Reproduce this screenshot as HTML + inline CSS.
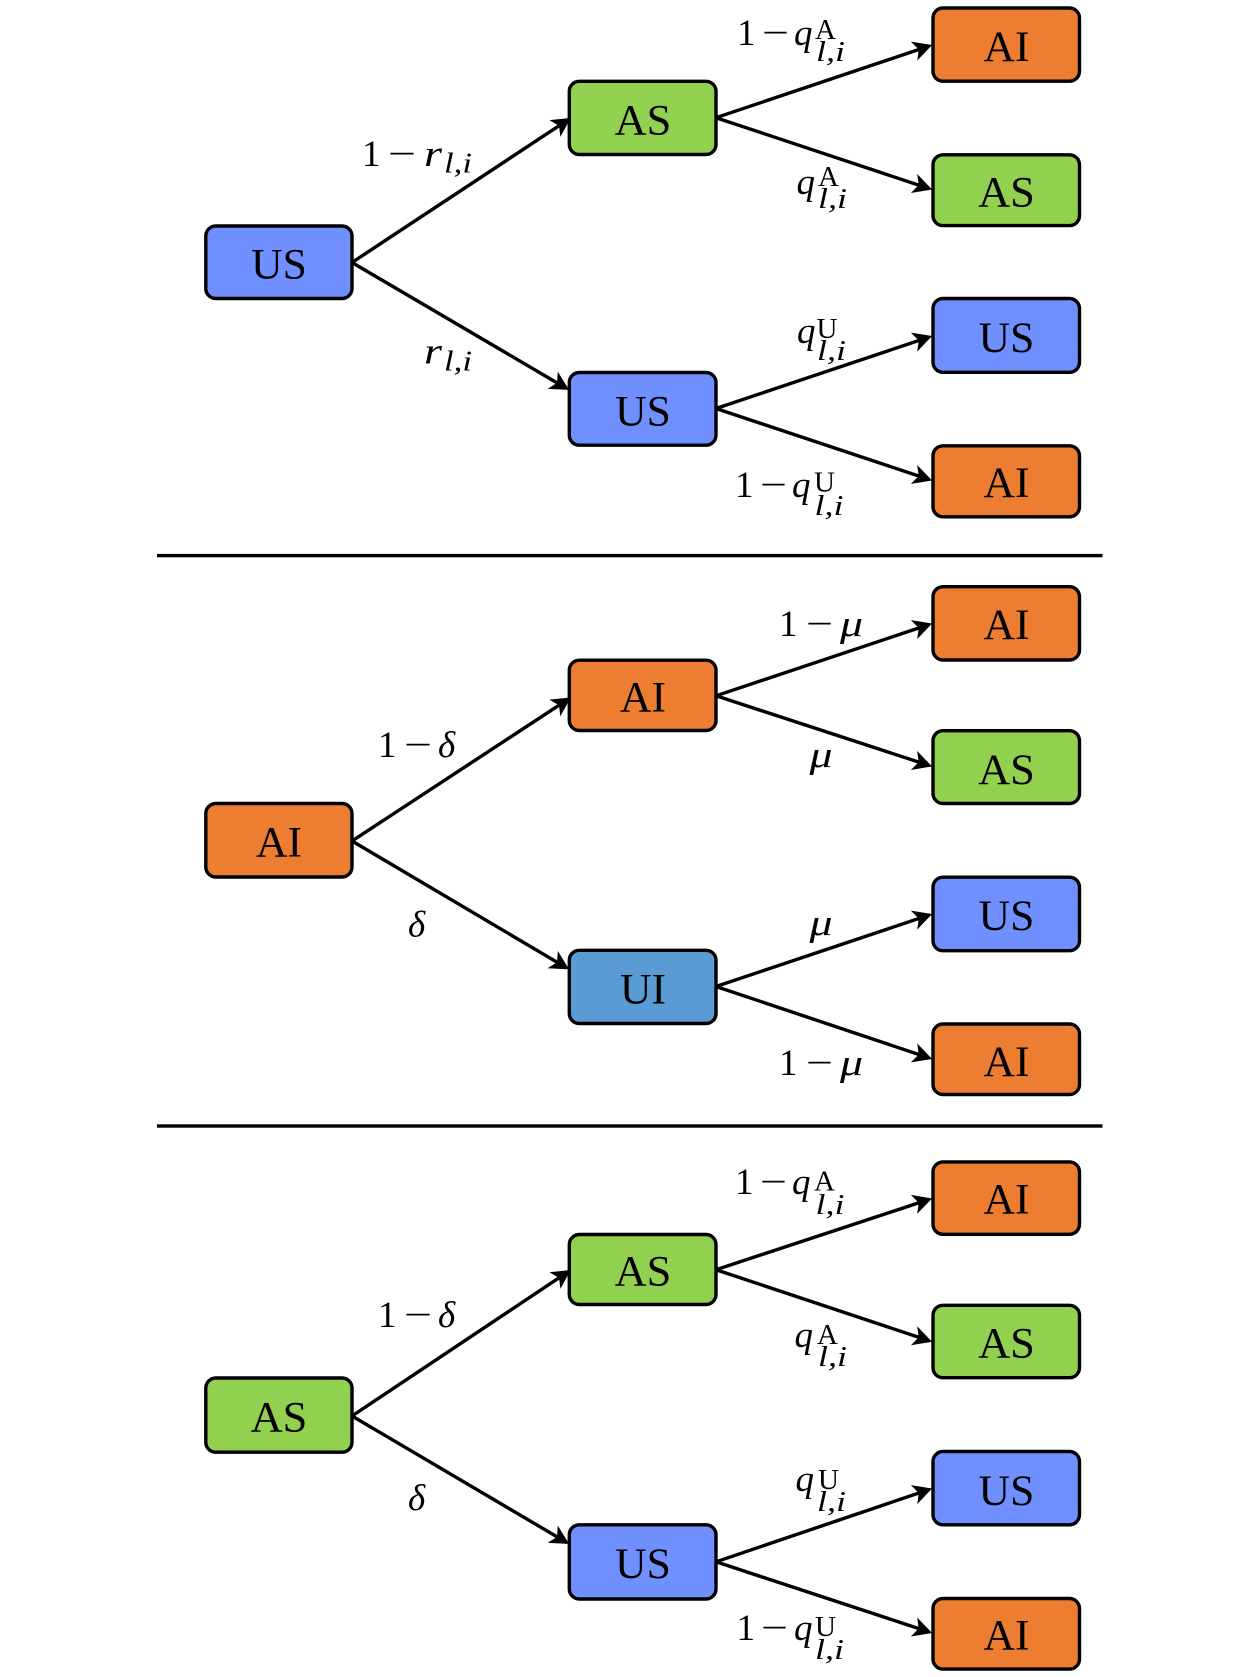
<!DOCTYPE html>
<html lang="en">
<head>
<meta charset="utf-8">
<title>State transition trees</title>
<style>
html,body{margin:0;padding:0;background:#fff;width:1260px;height:1677px;overflow:hidden}
svg{display:block}
text{font-family:"Liberation Serif",serif;fill:#000}
.n{font-size:43px;text-anchor:middle}
.m{font-size:37px}
.i{font-size:37px;font-style:italic}
.s{font-size:29px}
.t{font-size:28px;font-style:italic}
.b{stroke:#000;stroke-width:3.4}
.o{fill:#ED7D31}.g{fill:#92D050}.u{fill:#7090FF}.w{fill:#5B9BD5}
.a{stroke:#000;stroke-width:3.4;fill:none;marker-end:url(#h)}
</style>
</head>
<body>
<svg width="1260" height="1677" viewBox="0 0 1260 1677" xmlns="http://www.w3.org/2000/svg">
<defs>
<marker id="h" markerUnits="userSpaceOnUse" markerWidth="26" markerHeight="26" viewBox="-3 -13 26 26" refX="16" refY="0" orient="auto">
<path d="M0,-10 L19,0 L0,10 L5,0 Z" fill="#000"/>
</marker>
</defs>
<rect width="1260" height="1677" fill="#fff"/>

<!-- separators -->
<rect x="157" y="553.9" width="945.5" height="3.4" fill="#000"/>
<rect x="157" y="1124.3" width="945.5" height="3.4" fill="#000"/>

<!-- panel 1 boxes -->
<rect class="b u" x="205.8" y="226" width="146.2" height="72.5" rx="10"/>
<rect class="b g" x="569.3" y="81.3" width="146.7" height="73.2" rx="10"/>
<rect class="b u" x="569.3" y="372.5" width="146.7" height="72.7" rx="10"/>
<rect class="b o" x="933" y="8" width="146.5" height="73.2" rx="10"/>
<rect class="b g" x="933" y="154.8" width="146.5" height="70.8" rx="10"/>
<rect class="b u" x="933" y="298.5" width="146.5" height="73.8" rx="10"/>
<rect class="b o" x="933" y="445.8" width="146.5" height="71" rx="10"/>

<!-- panel 2 boxes -->
<rect class="b o" x="205.8" y="803.5" width="146.2" height="73.5" rx="10"/>
<rect class="b o" x="569.3" y="660.2" width="146.7" height="70.3" rx="10"/>
<rect class="b w" x="569.3" y="950.3" width="146.7" height="73.2" rx="10"/>
<rect class="b o" x="933" y="586.7" width="146.5" height="73.3" rx="10"/>
<rect class="b g" x="933" y="730.7" width="146.5" height="72.8" rx="10"/>
<rect class="b u" x="933" y="877.2" width="146.5" height="73.5" rx="10"/>
<rect class="b o" x="933" y="1024" width="146.5" height="70.5" rx="10"/>

<!-- panel 3 boxes -->
<rect class="b g" x="205.8" y="1378" width="146.2" height="74.2" rx="10"/>
<rect class="b g" x="569.3" y="1234.5" width="146.7" height="70" rx="10"/>
<rect class="b u" x="569.3" y="1524.8" width="146.7" height="74.2" rx="10"/>
<rect class="b o" x="933" y="1161.9" width="146.5" height="72.4" rx="10"/>
<rect class="b g" x="933" y="1305.3" width="146.5" height="72.4" rx="10"/>
<rect class="b u" x="933" y="1451.5" width="146.5" height="73.3" rx="10"/>
<rect class="b o" x="933" y="1598.5" width="146.5" height="70.6" rx="10"/>

<!-- panel 1 arrows -->
<line class="a" x1="352" y1="262.5" x2="568.2" y2="119.7"/>
<line class="a" x1="352" y1="262.5" x2="566.5" y2="388.4"/>
<line class="a" x1="716" y1="117.7" x2="929.2" y2="46"/>
<line class="a" x1="716" y1="117.7" x2="929.2" y2="188.6"/>
<line class="a" x1="716" y1="408.5" x2="929.2" y2="337"/>
<line class="a" x1="716" y1="408.5" x2="929.2" y2="479.5"/>

<!-- panel 2 arrows -->
<line class="a" x1="352" y1="841" x2="568.2" y2="699.2"/>
<line class="a" x1="352" y1="841" x2="566.5" y2="967.8"/>
<line class="a" x1="716" y1="695.8" x2="929.2" y2="624.5"/>
<line class="a" x1="716" y1="695.8" x2="929.2" y2="765.5"/>
<line class="a" x1="716" y1="986.5" x2="929.2" y2="915"/>
<line class="a" x1="716" y1="986.5" x2="929.2" y2="1058"/>

<!-- panel 3 arrows -->
<line class="a" x1="352" y1="1416" x2="568.2" y2="1271.7"/>
<line class="a" x1="352" y1="1416" x2="566.5" y2="1542.4"/>
<line class="a" x1="716" y1="1269.7" x2="929.2" y2="1199.4"/>
<line class="a" x1="716" y1="1269.7" x2="929.2" y2="1340.8"/>
<line class="a" x1="716" y1="1561.8" x2="929.2" y2="1489.5"/>
<line class="a" x1="716" y1="1561.8" x2="929.2" y2="1632"/>

<!-- node labels -->
<text class="n" x="279" y="278.7" textLength="55.6" lengthAdjust="spacingAndGlyphs">US</text>
<text class="n" x="643" y="134.5" textLength="56.7" lengthAdjust="spacingAndGlyphs">AS</text>
<text class="n" x="643" y="425.3" textLength="55.6" lengthAdjust="spacingAndGlyphs">US</text>
<text class="n" x="1006.5" y="61" textLength="46" lengthAdjust="spacingAndGlyphs">AI</text>
<text class="n" x="1006.5" y="206.7" textLength="56.7" lengthAdjust="spacingAndGlyphs">AS</text>
<text class="n" x="1006.5" y="352" textLength="55.6" lengthAdjust="spacingAndGlyphs">US</text>
<text class="n" x="1006.5" y="497" textLength="46" lengthAdjust="spacingAndGlyphs">AI</text>

<text class="n" x="279" y="856.7" textLength="46" lengthAdjust="spacingAndGlyphs">AI</text>
<text class="n" x="643" y="711.5" textLength="46" lengthAdjust="spacingAndGlyphs">AI</text>
<text class="n" x="643" y="1003.3" textLength="46" lengthAdjust="spacingAndGlyphs">UI</text>
<text class="n" x="1006.5" y="639" textLength="46" lengthAdjust="spacingAndGlyphs">AI</text>
<text class="n" x="1006.5" y="784" textLength="56.7" lengthAdjust="spacingAndGlyphs">AS</text>
<text class="n" x="1006.5" y="930" textLength="55.6" lengthAdjust="spacingAndGlyphs">US</text>
<text class="n" x="1006.5" y="1076" textLength="46" lengthAdjust="spacingAndGlyphs">AI</text>

<text class="n" x="279" y="1431.3" textLength="56.7" lengthAdjust="spacingAndGlyphs">AS</text>
<text class="n" x="643" y="1285.5" textLength="56.7" lengthAdjust="spacingAndGlyphs">AS</text>
<text class="n" x="643" y="1578" textLength="55.6" lengthAdjust="spacingAndGlyphs">US</text>
<text class="n" x="1006.5" y="1213.3" textLength="46" lengthAdjust="spacingAndGlyphs">AI</text>
<text class="n" x="1006.5" y="1357.5" textLength="56.7" lengthAdjust="spacingAndGlyphs">AS</text>
<text class="n" x="1006.5" y="1505" textLength="55.6" lengthAdjust="spacingAndGlyphs">US</text>
<text class="n" x="1006.5" y="1649.7" textLength="46" lengthAdjust="spacingAndGlyphs">AI</text>

<!-- panel 1 math -->
<text class="m" x="362" y="166">1</text>
<text class="m" x="388" y="166" textLength="28" lengthAdjust="spacingAndGlyphs">−</text>
<text class="i" x="424" y="166" textLength="18" lengthAdjust="spacingAndGlyphs">r</text>
<text class="t" x="444" y="172.5" textLength="28" lengthAdjust="spacingAndGlyphs">l,i</text>

<text class="i" x="424" y="363.5" textLength="18" lengthAdjust="spacingAndGlyphs">r</text>
<text class="t" x="444" y="370.5" textLength="28" lengthAdjust="spacingAndGlyphs">l,i</text>

<text class="m" x="737" y="45">1</text>
<text class="m" x="762" y="45" textLength="27" lengthAdjust="spacingAndGlyphs">−</text>
<text class="i" x="794" y="45">q</text>
<text class="s" x="815" y="39">A</text>
<text class="t" x="816" y="61" textLength="29" lengthAdjust="spacingAndGlyphs">l,i</text>

<text class="i" x="796.5" y="194">q</text>
<text class="s" x="818" y="186">A</text>
<text class="t" x="818" y="208" textLength="29" lengthAdjust="spacingAndGlyphs">l,i</text>

<text class="i" x="797" y="343">q</text>
<text class="s" x="816.5" y="338">U</text>
<text class="t" x="817" y="360" textLength="29" lengthAdjust="spacingAndGlyphs">l,i</text>

<text class="m" x="735" y="497">1</text>
<text class="m" x="760" y="497" textLength="27" lengthAdjust="spacingAndGlyphs">−</text>
<text class="i" x="792" y="497">q</text>
<text class="s" x="814" y="491.5">U</text>
<text class="t" x="814.5" y="515" textLength="29" lengthAdjust="spacingAndGlyphs">l,i</text>

<!-- panel 2 math -->
<text class="m" x="378" y="757">1</text>
<text class="m" x="404" y="757" textLength="28" lengthAdjust="spacingAndGlyphs">−</text>
<text class="i" x="438" y="757">δ</text>
<text class="i" x="408" y="936.5">δ</text>

<text class="m" x="779" y="636">1</text>
<text class="m" x="806" y="636" textLength="27" lengthAdjust="spacingAndGlyphs">−</text>
<text class="i" x="840" y="636" textLength="23" lengthAdjust="spacingAndGlyphs">μ</text>
<text class="i" x="809.5" y="767" textLength="23" lengthAdjust="spacingAndGlyphs">μ</text>
<text class="i" x="809.5" y="935" textLength="23" lengthAdjust="spacingAndGlyphs">μ</text>
<text class="m" x="779" y="1075">1</text>
<text class="m" x="806" y="1075" textLength="27" lengthAdjust="spacingAndGlyphs">−</text>
<text class="i" x="840" y="1075" textLength="23" lengthAdjust="spacingAndGlyphs">μ</text>

<!-- panel 3 math -->
<text class="m" x="378" y="1327">1</text>
<text class="m" x="404" y="1327" textLength="28" lengthAdjust="spacingAndGlyphs">−</text>
<text class="i" x="438" y="1327">δ</text>
<text class="i" x="408" y="1510">δ</text>

<text class="m" x="735" y="1194">1</text>
<text class="m" x="760" y="1194" textLength="27" lengthAdjust="spacingAndGlyphs">−</text>
<text class="i" x="792" y="1194">q</text>
<text class="s" x="814" y="1190.5">A</text>
<text class="t" x="815.5" y="1214" textLength="29" lengthAdjust="spacingAndGlyphs">l,i</text>

<text class="i" x="794.5" y="1347">q</text>
<text class="s" x="817" y="1344">A</text>
<text class="t" x="818" y="1366" textLength="29" lengthAdjust="spacingAndGlyphs">l,i</text>

<text class="i" x="795.5" y="1491">q</text>
<text class="s" x="818" y="1489">U</text>
<text class="t" x="817" y="1511" textLength="29" lengthAdjust="spacingAndGlyphs">l,i</text>

<text class="m" x="736.5" y="1640">1</text>
<text class="m" x="761" y="1640" textLength="27" lengthAdjust="spacingAndGlyphs">−</text>
<text class="i" x="794" y="1640">q</text>
<text class="s" x="815" y="1636">U</text>
<text class="t" x="815" y="1659" textLength="29" lengthAdjust="spacingAndGlyphs">l,i</text>
</svg>
</body>
</html>
